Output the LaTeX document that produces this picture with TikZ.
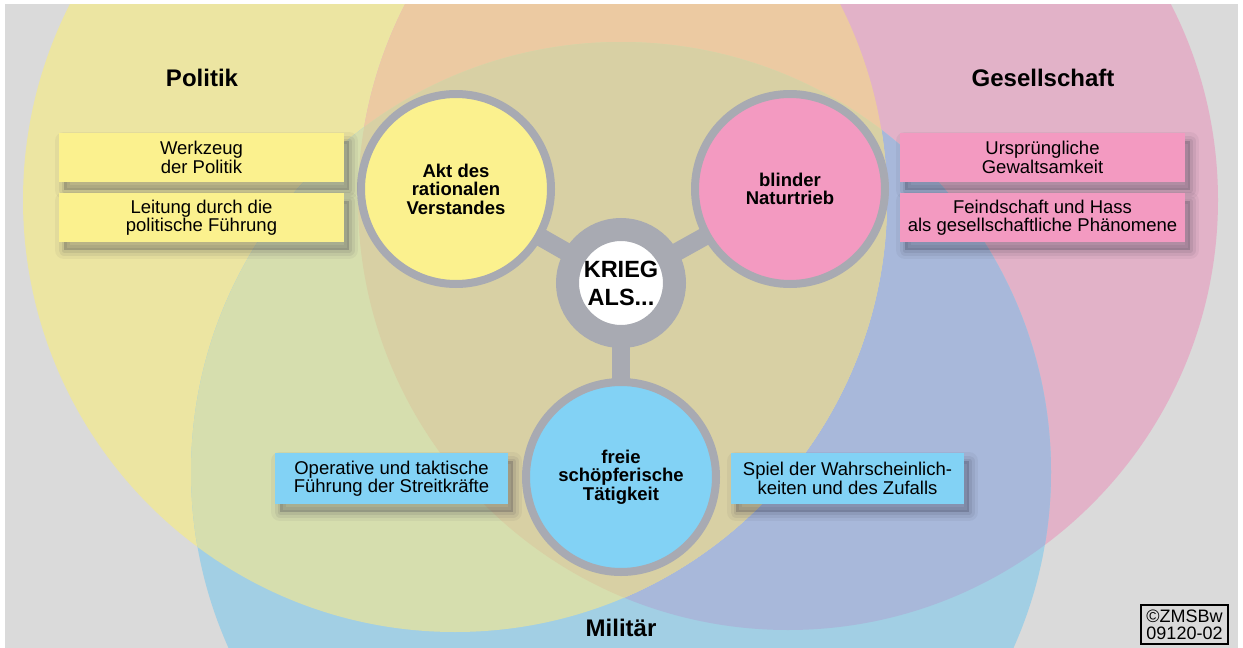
\documentclass[tikz,border=0pt]{standalone}
\usepackage{fontspec}
\setmainfont{Liberation Sans}
\definecolor{cGray}{RGB}{218,218,218}
\definecolor{cY}{RGB}{236,229,162}
\definecolor{cP}{RGB}{226,178,200}
\definecolor{cB}{RGB}{162,207,228}
\definecolor{cO}{RGB}{236,202,162}
\definecolor{cG}{RGB}{214,222,174}
\definecolor{cPu}{RGB}{168,184,218}
\definecolor{cK}{RGB}{216,208,164}
\definecolor{cRing}{RGB}{168,170,178}
\definecolor{bY}{RGB}{251,241,142}
\definecolor{bP}{RGB}{243,154,193}
\definecolor{bB}{RGB}{130,210,245}
\definecolor{shade}{RGB}{40,40,60}
\begin{document}
\begin{tikzpicture}[x=1pt,y=-1pt,
  ringnode/.style={circle, draw=cRing, line width=8pt, minimum size=190pt, inner sep=0pt,
    align=center, font=\bfseries\fontsize{18.5}{18.5}\selectfont},
  spoke/.style={draw=cRing, line width=18pt},
  softshadow/.style={
    preaction={draw=shade, draw opacity=0.05, line width=18pt, line join=round,
      transform canvas={shift={(5pt,-8pt)}}},
    preaction={draw=shade, draw opacity=0.07, line width=11pt, line join=round,
      transform canvas={shift={(5pt,-8pt)}}},
    preaction={draw=shade, draw opacity=0.09, line width=5pt, line join=round,
      transform canvas={shift={(5pt,-8pt)}}},
    preaction={fill=shade, fill opacity=0.22,
      transform canvas={shift={(5pt,-8pt)}}}},
  infobox/.style={rectangle, inner sep=0pt, align=center,
    font=\fontsize{18.5}{18.5}\selectfont, softshadow},
  sidebox/.style={infobox, minimum width=285pt, minimum height=49pt},
  lowbox/.style={infobox, minimum width=233pt, minimum height=51pt},
  areatitle/.style={font=\bfseries\fontsize{24}{24}\selectfont}
]
\useasboundingbox (0,0) rectangle (1243,648);
\fill[white] (0,0) rectangle (1243,648);
\begin{scope}
  \clip (5,4) rectangle (1238,648);
  \fill[cGray] (5,4) rectangle (1238,648);
  \fill[cY] (455,200) circle[radius=432pt];
  \fill[cP] (788,200) circle[radius=430pt];
  \fill[cB] (621,472) circle[radius=430pt];
  \begin{scope}
    \clip (788,200) circle[radius=430pt];
    \fill[cPu] (621,472) circle[radius=430pt];
  \end{scope}
  \begin{scope}
    \clip (455,200) circle[radius=432pt];
    \fill[cO] (788,200) circle[radius=430pt];
    \fill[cG] (621,472) circle[radius=430pt];
    \clip (788,200) circle[radius=430pt];
    \fill[cK] (621,472) circle[radius=430pt];
  \end{scope}
\end{scope}

\coordinate (ckrieg) at (621,283);
\coordinate (cakt) at (456,189);
\coordinate (ctrieb) at (790,189);
\coordinate (cfreie) at (621,477);
\draw[spoke] (ckrieg) -- (cakt);
\draw[spoke] (ckrieg) -- (ctrieb);
\draw[spoke] (ckrieg) -- (cfreie);

\node[areatitle] (politik) at (202,78) {Politik};
\node[areatitle] (gesell) at (1043,78) {Gesellschaft};
\node[areatitle] (militaer) at (621,628) {Militär};

\node[ringnode, fill=bY] (akt) at (cakt) {Akt des\\rationalen\\Verstandes};
\node[ringnode, fill=bP] (trieb) at (ctrieb) {blinder\\Naturtrieb};
\node[ringnode, fill=bB] (freie) at (cfreie) {freie\\schöpferische\\Tätigkeit};
\node[circle, fill=white, draw=cRing, line width=23pt, minimum size=107pt, inner sep=0pt,
  align=center, font=\bfseries\fontsize{23.5}{28}\selectfont] (krieg) at (ckrieg) {KRIEG\\ALS...};

\node[sidebox, fill=bY] (werkzeug) at (201.5,157.5) {Werkzeug\\der Politik};
\node[sidebox, fill=bY] (leitung) at (201.5,217.5) {Leitung durch die\\politische Führung};
\node[sidebox, fill=bP] (ursprung) at (1042.5,157.5) {Ursprüngliche\\Gewaltsamkeit};
\node[sidebox, fill=bP] (feind) at (1042.5,217.5) {Feindschaft und Hass\\als gesellschaftliche Phänomene};
\node[lowbox, fill=bB] (operativ) at (391.5,478.5) {Operative und taktische\\Führung der Streitkräfte};
\node[lowbox, fill=bB] (spiel) at (847.5,478.5) {Spiel der Wahrscheinlich-\\keiten und des Zufalls};

\node[draw, line width=1.3pt, minimum width=87pt, minimum height=39pt, inner sep=0pt,
  align=center, font=\fontsize{18}{17}\selectfont] (zms) at (1184.5,624.5) {\textcopyright ZMSBw\\09120-02};
\end{tikzpicture}
\end{document}
